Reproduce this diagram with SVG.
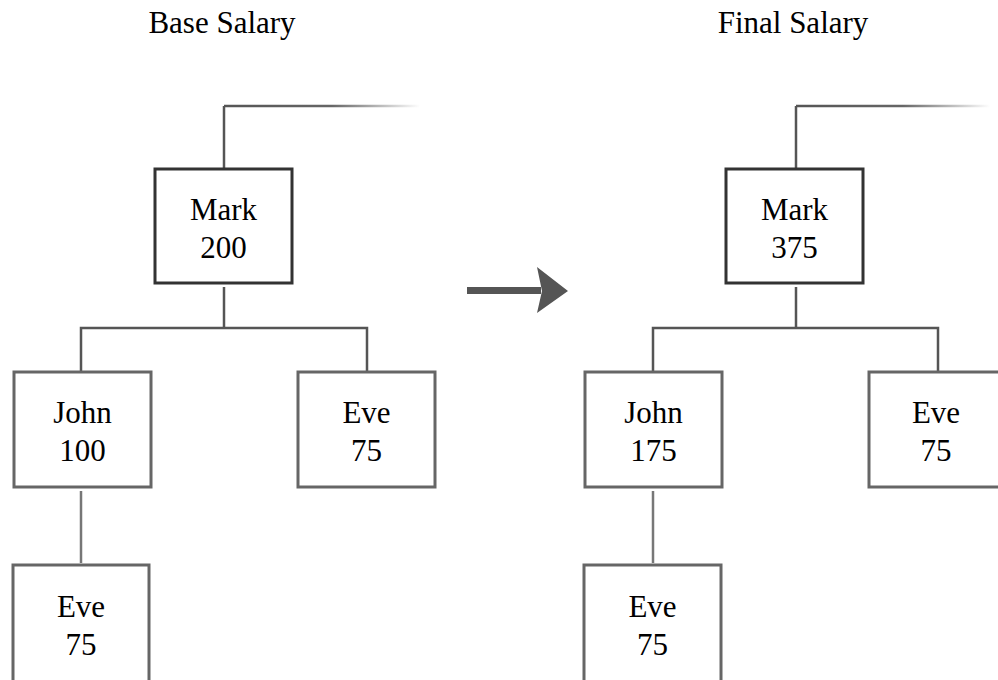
<svg xmlns="http://www.w3.org/2000/svg" width="998" height="680" viewBox="0 0 998 680">
<style>
.t{font-family:"Liberation Serif","Times New Roman",serif;font-size:31px;fill:#000;text-anchor:middle}
.root{fill:#fff;stroke:#333;stroke-width:3}
.box{fill:#fff;stroke:#666;stroke-width:3}
.ln{fill:none;stroke:#555;stroke-width:2.5}
.ln2{fill:none;stroke:#777;stroke-width:2.5}
</style>
<defs>
<linearGradient id="fadeL" gradientUnits="userSpaceOnUse" x1="224" y1="0" x2="420" y2="0">
<stop offset="0" stop-color="#555"/><stop offset="0.55" stop-color="#666"/><stop offset="1" stop-color="#666" stop-opacity="0"/>
</linearGradient>
<linearGradient id="fadeR" gradientUnits="userSpaceOnUse" x1="796" y1="0" x2="990" y2="0">
<stop offset="0" stop-color="#555"/><stop offset="0.55" stop-color="#666"/><stop offset="1" stop-color="#666" stop-opacity="0"/>
</linearGradient>
</defs>
<rect width="998" height="680" fill="#fff"/>
<text class="t" x="222" y="33" font-size="30">Base Salary</text>
<text class="t" x="793" y="33" font-size="30">Final Salary</text>
<g id="connectors">
<path d="M224 106 H420" stroke="url(#fadeL)" stroke-width="2.5" fill="none"/>
<path class="ln" d="M224 106 V169"/>
<path class="ln" d="M224 287 V328"/>
<path class="ln" d="M81 372 V328 H367 V372"/>
<path class="ln2" d="M81 491 V563"/>
<path d="M796 106 H990" stroke="url(#fadeR)" stroke-width="2.5" fill="none"/>
<path class="ln" d="M796 106 V169"/>
<path class="ln" d="M796 287 V328"/>
<path class="ln" d="M653 372 V328 H938 V372"/>
<path class="ln2" d="M653 491 V563"/>
<g id="transition-arrow">
<rect x="467" y="287" width="74" height="7" fill="#555"/>
<path d="M537 267 L568 291 L537 313 L542 291 Z" fill="#555"/>
</g>
</g>
<g id="mark-base"><rect class="root" x="155" y="169" width="137" height="114"/><text class="t" x="223.5" y="220">Mark</text><text class="t" x="223.5" y="258">200</text></g>
<g id="john-base"><rect class="box" x="14" y="372" width="137" height="115"/><text class="t" x="82.5" y="423">John</text><text class="t" x="82.5" y="461">100</text></g>
<g id="eve-base-right"><rect class="box" x="298" y="372" width="137" height="115"/><text class="t" x="366.5" y="423">Eve</text><text class="t" x="366.5" y="461">75</text></g>
<g id="eve-base-bottom"><rect class="box" x="13" y="565" width="136" height="130"/><text class="t" x="81" y="617">Eve</text><text class="t" x="81" y="655">75</text></g>
<g id="mark-final"><rect class="root" x="726" y="169" width="137" height="114"/><text class="t" x="794.5" y="220">Mark</text><text class="t" x="794.5" y="258">375</text></g>
<g id="john-final"><rect class="box" x="585" y="372" width="137" height="115"/><text class="t" x="653.5" y="423">John</text><text class="t" x="653.5" y="461">175</text></g>
<g id="eve-final-right"><rect class="box" x="869" y="372" width="137" height="115"/><text class="t" x="936" y="423">Eve</text><text class="t" x="936" y="461">75</text></g>
<g id="eve-final-bottom"><rect class="box" x="584" y="565" width="137" height="130"/><text class="t" x="652.5" y="617">Eve</text><text class="t" x="652.5" y="655">75</text></g>
</svg>
